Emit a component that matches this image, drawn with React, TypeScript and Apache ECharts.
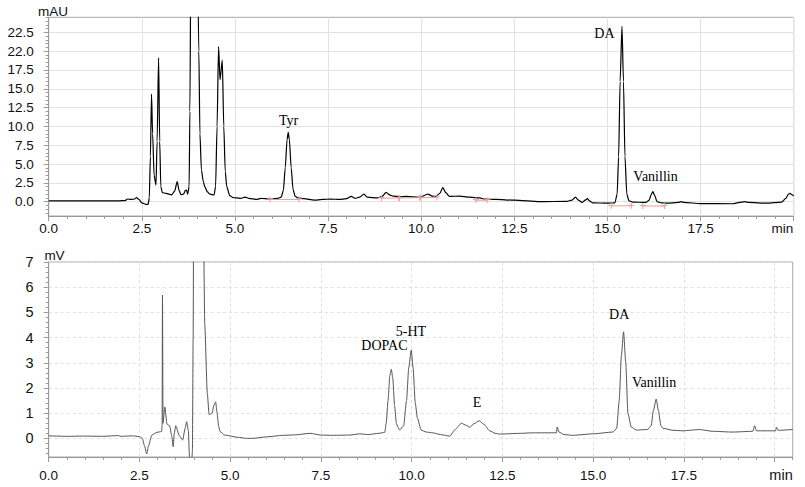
import React, { useEffect, useRef } from 'react';
import * as echarts from 'echarts';

// ---------- data ----------
// UV chromatogram (top), time in min, absorbance in mAU
const uvTrace: [number, number][] = [
  [0, 0.1], [0.5, 0.1], [1.0, 0.1], [1.5, 0.1], [1.9, 0.12], [2.05, 0.15], [2.12, 0.36], [2.2, 0.3],
  [2.3, 0.35], [2.36, 0.53], [2.42, 0.3], [2.5, -0.15], [2.6, -0.35], [2.67, -0.35], [2.7, 0.5],
  [2.73, 6], [2.76, 14.3], [2.79, 9], [2.83, 3.5], [2.88, 2.2], [2.91, 8], [2.95, 19.1], [2.98, 8],
  [3.01, 2.0], [3.05, 1.2], [3.15, 1.1], [3.3, 0.9], [3.38, 1.4], [3.45, 2.66], [3.5, 1.5], [3.55, 0.95],
  [3.62, 1.0], [3.67, 1.5], [3.7, 1.55], [3.73, 1.0], [3.77, 2], [3.79, 12], [3.82, 35], [3.9, 60],
  [3.98, 40], [4.03, 20], [4.06, 9], [4.1, 4.2], [4.15, 2.7], [4.19, 2.0], [4.26, 1.3], [4.33, 1.0],
  [4.44, 0.9], [4.48, 2], [4.52, 10], [4.56, 20.6], [4.6, 16.2], [4.66, 18.8], [4.7, 10], [4.74, 4],
  [4.78, 2.0], [4.86, 0.8], [4.95, 0.55], [5.04, 0.5], [5.15, 0.45], [5.27, 0.6], [5.38, 0.45],
  [5.58, 0.3], [5.7, 0.45], [5.8, 0.4], [6.0, 0.35], [6.15, 0.45], [6.24, 0.6], [6.3, 1.5], [6.35, 4.5],
  [6.4, 8.3], [6.43, 9.2], [6.46, 8.3], [6.51, 4.5], [6.56, 1.6], [6.62, 0.7], [6.7, 0.5], [6.85, 0.4],
  [7.13, 0.2], [7.35, 0.3], [7.57, 0.35], [7.8, 0.3], [8.0, 0.4], [8.12, 0.7], [8.22, 0.45], [8.35, 0.6],
  [8.46, 1.0], [8.55, 0.6], [8.82, 0.5], [8.95, 0.7], [9.06, 1.25], [9.15, 0.9], [9.25, 0.75],
  [9.42, 0.66], [9.6, 0.7], [9.96, 0.6], [10.18, 1.0], [10.3, 0.75], [10.4, 0.7], [10.5, 1.1],
  [10.58, 1.86], [10.66, 1.2], [10.76, 0.7], [11.03, 0.75], [11.3, 0.6], [11.57, 0.5], [11.7, 0.35],
  [12.0, 0.3], [12.5, 0.2], [13.18, 0.0], [13.9, 0.05], [14.05, 0.2], [14.14, 0.6], [14.22, 0.2],
  [14.32, -0.1], [14.4, 0.2], [14.46, 0.4], [14.52, 0.1], [14.6, -0.15], [15.0, -0.2], [15.2, -0.15],
  [15.26, 1.0], [15.3, 6], [15.34, 16], [15.39, 23.3], [15.43, 16], [15.47, 6], [15.52, 1.0],
  [15.58, 0.1], [15.68, -0.05], [16.03, -0.1], [16.12, 0.2], [16.17, 0.9], [16.22, 1.33], [16.27, 0.8],
  [16.33, 0.0], [16.45, -0.15], [16.6, -0.2], [16.9, -0.1], [16.98, 0.0], [17.05, -0.1], [17.5, -0.25],
  [18.36, -0.27], [18.55, -0.1], [18.68, 0.0], [18.8, -0.1], [19.26, -0.2], [19.68, -0.05],
  [19.78, 0.4], [19.86, 1.0], [19.9, 1.1], [19.96, 0.9], [20.0, 0.8],
];

// integration baselines drawn in red on the UV trace
const uvBaselines: [number, number][][] = [
  [[5.94, 0.3], [6.72, 0.3]],
  [[8.93, 0.45], [9.4, 0.5]],
  [[9.42, 0.5], [9.97, 0.53]],
  [[9.97, 0.53], [10.42, 0.55]],
  [[11.47, 0.2], [11.77, 0.2]],
  [[15.1, -0.55], [15.64, -0.55]],
  [[15.95, -0.57], [16.53, -0.57]],
];

// Electrochemical chromatogram (bottom), time in min, signal in mV
const ecdTrace: [number, number][] = [
  [0, 0.1], [0.5, 0.08], [1.0, 0.09], [1.5, 0.08], [1.9, 0.11], [2.0, 0.08], [2.3, 0.1], [2.5, 0.07],
  [2.58, 0.0], [2.64, -0.3], [2.7, -0.62], [2.75, -0.3], [2.84, 0.13], [2.98, 0.24], [3.11, 0.27],
  [3.125, 0.5], [3.135, 5.69], [3.15, 0.6], [3.2, 1.25], [3.26, 0.56], [3.33, 0.5], [3.39, 0.1],
  [3.43, -0.33], [3.46, 0.2], [3.5, 0.5], [3.6, 0.1], [3.69, -0.07], [3.76, 0.4], [3.8, 0.66],
  [3.85, 0.3], [3.87, -0.5], [3.89, -1.2], [3.93, -1.2], [3.96, -0.5], [3.98, 4], [4.0, 12],
  [4.1, 25], [4.2, 20], [4.26, 9], [4.3, 4.5], [4.37, 1.79], [4.42, 0.94], [4.5, 1.0], [4.55, 1.3],
  [4.6, 1.45], [4.64, 1.0], [4.68, 0.5], [4.72, 0.27], [4.85, 0.13], [5.22, 0.04], [5.45, 0.0],
  [5.63, 0.0], [6.0, 0.06], [6.46, 0.12], [6.8, 0.14], [7.2, 0.2], [7.5, 0.13], [7.84, 0.12],
  [8.3, 0.13], [8.57, 0.18], [8.8, 0.15], [9.1, 0.2], [9.26, 0.24], [9.3, 0.6], [9.35, 1.5],
  [9.4, 2.5], [9.44, 2.74], [9.48, 2.4], [9.53, 1.3], [9.58, 0.6], [9.62, 0.45], [9.67, 0.33],
  [9.78, 0.5], [9.86, 1.5], [9.92, 2.8], [9.99, 3.5], [10.04, 2.8], [10.1, 1.4], [10.16, 0.8],
  [10.26, 0.33], [10.4, 0.25], [10.58, 0.22], [10.8, 0.15], [11.05, 0.09], [11.2, 0.35],
  [11.37, 0.6], [11.5, 0.52], [11.6, 0.44], [11.72, 0.58], [11.86, 0.7], [12.0, 0.55], [12.15, 0.3],
  [12.3, 0.2], [12.43, 0.17], [13.0, 0.2], [13.35, 0.22], [13.99, 0.22], [14.01, 0.45], [14.06, 0.25],
  [14.2, 0.15], [14.44, 0.12], [15.0, 0.18], [15.55, 0.25], [15.65, 0.4], [15.72, 1.5], [15.78, 3.3],
  [15.84, 4.23], [15.9, 3.0], [15.96, 1.0], [16.05, 0.45], [16.19, 0.33], [16.5, 0.35], [16.6, 0.5],
  [16.66, 1.1], [16.74, 1.56], [16.8, 1.1], [16.87, 0.5], [16.92, 0.4], [17.2, 0.32], [17.47, 0.3],
  [17.93, 0.35], [18.3, 0.28], [18.85, 0.25], [19.4, 0.28], [19.45, 0.5], [19.5, 0.3], [19.8, 0.3],
  [20.03, 0.3], [20.05, 0.45], [20.1, 0.32], [20.5, 0.35],
];

// peak annotations: [name, time, value]
const uvPeakLabels: [string, number, number][] = [
  ['Tyr', 6.44, 10.8],
  ['DA', 14.92, 22.4],
  ['Vanillin', 16.29, 3.3],
];
const ecdPeakLabels: [string, number, number][] = [
  ['DOPAC', 9.25, 3.7],
  ['5-HT', 9.98, 4.23],
  ['E', 11.8, 1.43],
  ['DA', 15.72, 4.93],
  ['Vanillin', 16.68, 2.21],
];

// tick labels
const xTickValues = [0, 2.5, 5, 7.5, 10, 12.5, 15, 17.5];
const xTickLabels = ['0.0', '2.5', '5.0', '7.5', '10.0', '12.5', '15.0', '17.5'];
const uvTickValues = [0, 2.5, 5, 7.5, 10, 12.5, 15, 17.5, 20, 22.5];
const uvTickLabels = ['0.0', '2.5', '5.0', '7.5', '10.0', '12.5', '15.0', '17.5', '22.0', '22.5'];
const ecdTickValues = [0, 1, 2, 3, 4, 5, 6, 7];
const ecdTickLabels = ['0', '1', '2', '3', '4', '5', '6', '7'];
const ecdXMajor = [0, 2.5, 5, 7.5, 10, 12.5, 15, 17.5, 20];

// axis ranges
const uvX: [number, number] = [0, 20];
const uvY: [number, number] = [-1.9, 24.5];
const ecdX: [number, number] = [0, 20.5];
const ecdY: [number, number] = [-0.74, 7];

function steps(a: number, b: number, s: number): number[] {
  const out: number[] = [];
  const n = Math.round((b - a) / s);
  for (let i = 0; i <= n; i++) out.push(Math.round((a + i * s) * 1000) / 1000);
  return out;
}

const SANS = '"Liberation Sans", Arial, sans-serif';
const SERIF = '"Liberation Serif", "Times New Roman", serif';
const AXIS_GRAY = '#9a9a9a';

function labelFmt(values: number[], labels: string[]) {
  return (v: number) => {
    const i = values.findIndex((x) => Math.abs(x - v) < 1e-6);
    return i >= 0 ? labels[i] : '';
  };
}

export default function App() {
  const ref = useRef<HTMLDivElement>(null);
  useEffect(() => {
    if (!ref.current) return;
    const chart = echarts.init(ref.current, undefined, { renderer: 'svg' });
    const crossSymbol = 'path://M5,0L5,12M0,5L10,5';
    const peakMark = (labels: [string, number, number][]) => ({
      symbol: 'circle',
      symbolSize: 1,
      itemStyle: { color: 'rgba(0,0,0,0)' },
      label: { show: true, position: 'inside', formatter: '{b}', fontFamily: SERIF, fontSize: 14, color: '#000' },
      data: labels.map(([name, t, v]) => ({ name, coord: [t, v] })),
    });
    const axisLabelStyle = { fontFamily: SANS, fontSize: 13.5, color: '#111' };
    chart.setOption({
      animation: false,
      grid: [
        { left: 48.7, top: 17.3, width: 745, height: 198.7, show: true, borderColor: '#a8a8a8', borderWidth: 1 },
        { left: 48.7, top: 262, width: 744, height: 195, show: true, borderColor: '#a8a8a8', borderWidth: 1 },
      ],
      xAxis: [
        {
          gridIndex: 0, type: 'value', min: uvX[0], max: uvX[1], interval: 2.5,
          axisLine: { onZero: false, lineStyle: { color: AXIS_GRAY } },
          axisTick: { length: 5, lineStyle: { color: AXIS_GRAY } },
          minorTick: { show: true, splitNumber: 5, length: 3, lineStyle: { color: AXIS_GRAY } },
          axisLabel: { ...axisLabelStyle, margin: 5, customValues: xTickValues, formatter: labelFmt(xTickValues, xTickLabels) },
          splitLine: { show: true, lineStyle: { color: '#e2e2e2', width: 1 } },
        },
        {
          gridIndex: 1, type: 'value', min: ecdX[0], max: ecdX[1],
          axisLine: { onZero: false, lineStyle: { color: AXIS_GRAY } },
          axisTick: { length: 5, customValues: ecdXMajor, lineStyle: { color: AXIS_GRAY } },
          axisLabel: { ...axisLabelStyle, margin: 11, customValues: xTickValues, formatter: labelFmt(xTickValues, xTickLabels) },
          splitLine: { show: true, lineStyle: { color: '#e0e0e0', type: [3, 3], width: 1 } },
        },
        {
          gridIndex: 1, type: 'value', min: ecdX[0], max: ecdX[1], position: 'bottom',
          axisLine: { show: false, onZero: false },
          axisTick: { length: 3, customValues: steps(0.5, 20.5, 0.5), lineStyle: { color: AXIS_GRAY } },
          axisLabel: { show: false },
          splitLine: { show: false },
        },
      ],
      yAxis: [
        {
          gridIndex: 0, type: 'value', min: uvY[0], max: uvY[1],
          axisLine: { show: true, onZero: false, lineStyle: { color: AXIS_GRAY } },
          axisTick: { show: true, length: 5, customValues: uvTickValues, lineStyle: { color: AXIS_GRAY } },
          axisLabel: { ...axisLabelStyle, margin: 15, customValues: uvTickValues, formatter: labelFmt(uvTickValues, uvTickLabels) },
          splitLine: { show: true, lineStyle: { color: '#e2e2e2', width: 1 } },
        },
        {
          gridIndex: 0, type: 'value', min: uvY[0], max: uvY[1], position: 'left',
          axisLine: { show: false, onZero: false },
          axisTick: { show: true, length: 3, customValues: steps(-1.5, 24.5, 0.5), lineStyle: { color: AXIS_GRAY } },
          axisLabel: { show: false },
          splitLine: { show: false },
        },
        {
          gridIndex: 1, type: 'value', min: ecdY[0], max: ecdY[1],
          axisLine: { show: true, onZero: false, lineStyle: { color: AXIS_GRAY } },
          axisTick: { show: true, length: 5, customValues: ecdTickValues, lineStyle: { color: AXIS_GRAY } },
          axisLabel: { ...axisLabelStyle, fontSize: 14.5, margin: 15, customValues: ecdTickValues, formatter: labelFmt(ecdTickValues, ecdTickLabels) },
          splitLine: { show: true, lineStyle: { color: '#e0e0e0', type: [3, 3], width: 1 } },
        },
        {
          gridIndex: 1, type: 'value', min: ecdY[0], max: ecdY[1], position: 'left',
          axisLine: { show: false, onZero: false },
          axisTick: { show: true, length: 3, customValues: steps(-0.6, 7, 0.2), lineStyle: { color: AXIS_GRAY } },
          axisLabel: { show: false },
          splitLine: { show: false },
        },
      ],
      series: [
        {
          type: 'line', xAxisIndex: 0, yAxisIndex: 0, data: uvTrace, symbol: 'none', clip: true,
          lineStyle: { color: '#000', width: 1.2 }, smooth: 0.25, smoothMonotone: 'x',
          markPoint: peakMark(uvPeakLabels),
        },
        ...uvBaselines.map((seg) => ({
          type: 'line', xAxisIndex: 0, yAxisIndex: 0, data: seg, symbol: crossSymbol, symbolSize: 6,
          showSymbol: true, itemStyle: { color: 'none', borderColor: '#f29a9a', borderWidth: 1 },
          lineStyle: { color: '#f29a9a', width: 1 }, z: 3,
        })),
        {
          type: 'line', xAxisIndex: 1, yAxisIndex: 2, data: ecdTrace, symbol: 'none', clip: true,
          lineStyle: { color: '#555', width: 1 }, smooth: 0.2, smoothMonotone: 'x',
          markPoint: peakMark(ecdPeakLabels),
        },
      ],
      graphic: [
        { type: 'text', x: 53, y: 11.5, style: { text: 'mAU', font: `13.5px ${SANS}`, fill: '#111', align: 'center', verticalAlign: 'middle' } },
        { type: 'text', x: 793.3, y: 228, style: { text: 'min', font: `13.5px ${SANS}`, fill: '#111', align: 'right', verticalAlign: 'middle' } },
        { type: 'text', x: 54.5, y: 255, style: { text: 'mV', font: `13.5px ${SANS}`, fill: '#111', align: 'center', verticalAlign: 'middle' } },
        { type: 'text', x: 792.7, y: 475, style: { text: 'min', font: `14.5px ${SANS}`, fill: '#111', align: 'right', verticalAlign: 'middle' } },
      ],
    });
    return () => chart.dispose();
  }, []);
  return <div ref={ref} style={{ position: 'fixed', left: 0, top: 0, width: 805, height: 487, background: '#fff' }} />;
}
